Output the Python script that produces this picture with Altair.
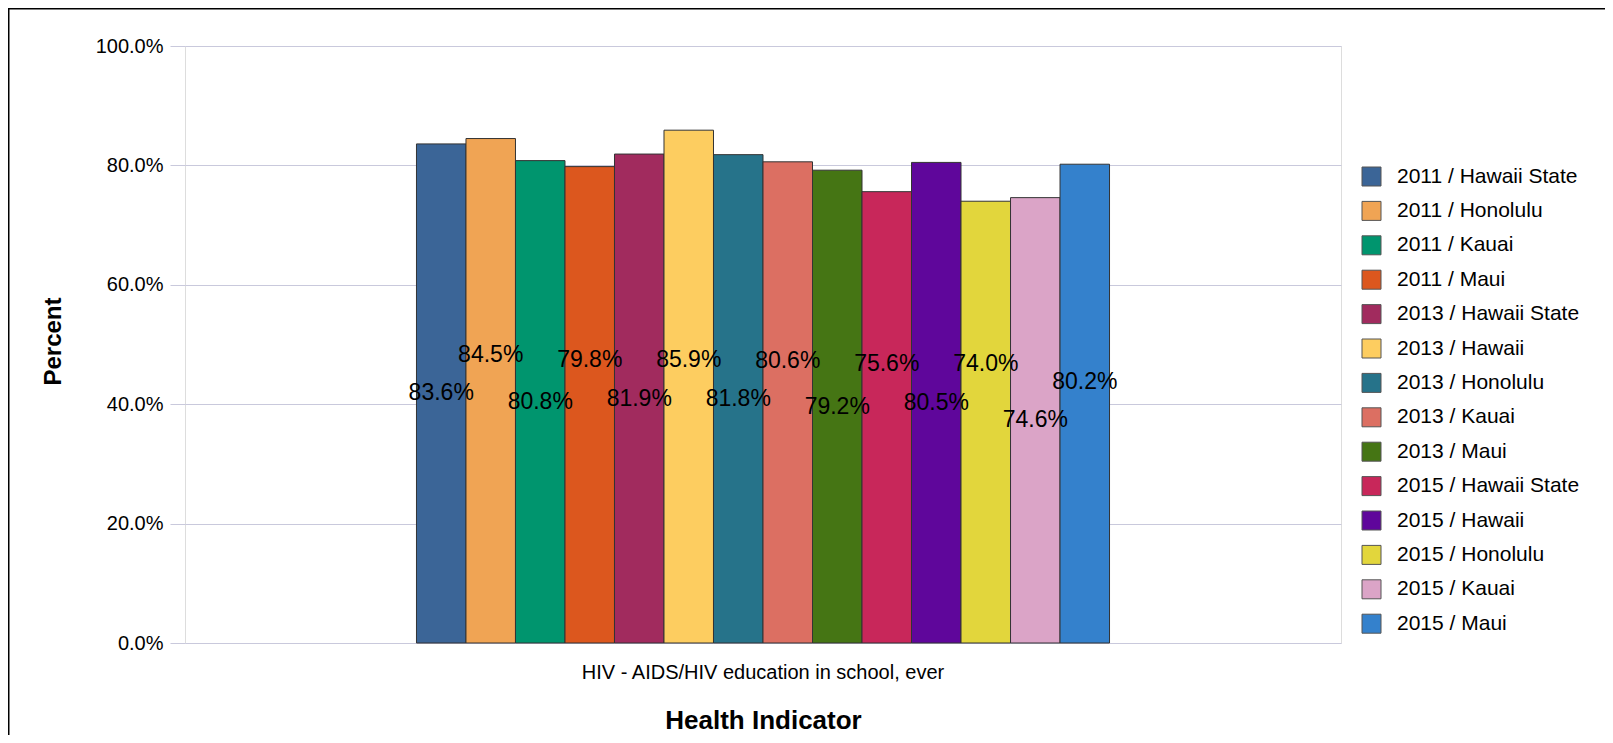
import altair as alt
import pandas as pd

indicator = "HIV - AIDS/HIV education in school, ever"
series = [
    "2011 / Hawaii State", "2011 / Honolulu", "2011 / Kauai", "2011 / Maui",
    "2013 / Hawaii State", "2013 / Hawaii", "2013 / Honolulu", "2013 / Kauai",
    "2013 / Maui", "2015 / Hawaii State", "2015 / Hawaii", "2015 / Honolulu",
    "2015 / Kauai", "2015 / Maui",
]
values = [83.6, 84.5, 80.8, 79.8, 81.9, 85.9, 81.8, 80.6, 79.2, 75.6, 80.5, 74.0, 74.6, 80.2]
colors = [
    "#3b6597", "#f0a454", "#00956e", "#dc571e", "#a12b5e", "#fdcd60", "#26738a",
    "#dc6f62", "#457514", "#c8275a", "#5f069b", "#e2d63c", "#dba4c7", "#3481cc",
]

# label positions: alternate between bar middle and staggered above neighbours
label_y = []
for i, v in enumerate(values):
    if i % 2 == 0:
        label_y.append(v / 2)
    else:
        nb = [values[j] / 2 for j in (i - 1, i + 1) if 0 <= j < len(values)]
        label_y.append(max(nb) + 6.4)

df = pd.DataFrame({
    "indicator": [indicator] * len(series),
    "series": series,
    "value": values,
    "label": [f"{v:.1f}%" for v in values],
    "label_y": label_y,
})

FONT = "Liberation Sans"
W, H = 1156, 597
PAD = {"left": 177, "top": 38, "right": 264, "bottom": 92}

x_enc = alt.X(
    "indicator:N",
    scale=alt.Scale(paddingInner=0, paddingOuter=0.334),
    axis=alt.Axis(
        title="Health Indicator",
        labelFontSize=20,
        labelPadding=19,
        labelAngle=0,
        labelLimit=0,
        labelColor="#000000",
        ticks=False,
        domain=False,
        titleFontSize=26,
        titleFontWeight="bold",
        titleColor="#000000",
        titleY=85,
        titleBaseline="alphabetic",
    ),
)
xoff = alt.XOffset("series:N", sort=series, scale=alt.Scale(domain=series, paddingInner=0, paddingOuter=0))

bars = alt.Chart(df).mark_bar(stroke="#333333", strokeWidth=1).encode(
    x=x_enc,
    xOffset=xoff,
    y=alt.Y(
        "value:Q",
        scale=alt.Scale(domain=[0, 100]),
        axis=alt.Axis(
            title="Percent",
            values=[0, 20, 40, 60, 80, 100],
            labelExpr="format(datum.value, '.1f') + '%'",
            labelFontSize=20,
            labelColor="#000000",
            labelPadding=7,
            tickSize=15,
            tickColor="#c9c9dc",
            domain=False,
            grid=True,
            gridColor="#c9c9dc",
            titleFontSize=24,
            titleFontWeight="bold",
            titleColor="#000000",
            titleX=-132,
            titleY=295,
            titleBaseline="middle",
        ),
    ),
    color=alt.Color(
        "series:N",
        scale=alt.Scale(domain=series, range=colors),
        legend=alt.Legend(
            title=None,
            orient="none",
            legendX=1176,
            legendY=120,
            symbolType="square",
            symbolSize=361,
            symbolStrokeColor="#555555",
            symbolStrokeWidth=1,
            symbolOpacity=1,
            labelFontSize=21,
            labelColor="#000000",
            labelOffset=15,
            labelLimit=0,
            rowPadding=11.4,
            padding=0,
        ),
    ),
)

texts = alt.Chart(df).mark_text(fontSize=23, color="#000000", baseline="middle", font=FONT).encode(
    x=x_enc,
    xOffset=xoff,
    y=alt.Y("label_y:Q"),
    text="label:N",
)

frame_data = alt.Data(values=[{"a": 1}])
top_line = alt.Chart(frame_data).mark_rule(color="#000000", strokeWidth=1.5).encode(
    x=alt.value(-PAD["left"]), x2=alt.value(W + PAD["right"]),
    y=alt.value(-PAD["top"] + 0.75),
)
left_line = alt.Chart(frame_data).mark_rule(color="#000000", strokeWidth=1.5).encode(
    x=alt.value(-PAD["left"] + 0.75),
    y=alt.value(-PAD["top"]), y2=alt.value(H + PAD["bottom"]),
)

chart = alt.layer(bars, texts, top_line, left_line).properties(
    width=W,
    height=H,
    autosize=alt.AutoSizeParams(type="none"),
    padding=PAD,
    background="#ffffff",
).configure_view(
    fill="#f0eff5", stroke=None
).configure(
    font=FONT
)

chart.save("out.html", embed_options={"renderer": "svg", "actions": False})
